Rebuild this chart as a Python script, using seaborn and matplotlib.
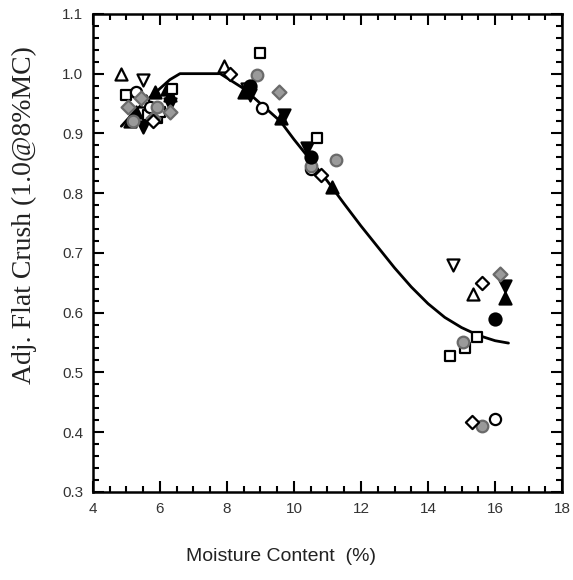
import numpy as np
import pandas as pd
import matplotlib
matplotlib.use("Agg")
import matplotlib.pyplot as plt
import seaborn as sns
from matplotlib.ticker import MultipleLocator


# =========================================================
# DATA
# =========================================================

curve_x = [4.85, 5.3, 5.8, 6.3, 6.6, 7.8, 8.5, 9.0, 9.6, 10.0, 10.5,
           11.0, 11.5, 12.0, 12.5, 13.0, 13.5, 14.0, 14.5, 15.0, 15.5,
           16.0, 16.4]
curve_y = [0.912, 0.94, 0.965, 0.99, 1.0, 1.0, 0.975, 0.95, 0.92, 0.89,
           0.855, 0.82, 0.782, 0.745, 0.71, 0.675, 0.643, 0.615, 0.592,
           0.575, 0.562, 0.553, 0.549]

tri_up_open_x = [4.85, 5.6, 7.9, 15.35]
tri_up_open_y = [1.0, 0.955, 1.012, 0.632]

tri_dn_open_x = [5.5, 8.6, 14.75]
tri_dn_open_y = [0.99, 0.975, 0.68]

tri_up_fill_x = [5.1, 5.3, 5.85, 6.2, 6.3, 8.5, 9.6, 11.15, 16.3]
tri_up_fill_y = [0.92, 0.935, 0.97, 0.975, 0.965, 0.97, 0.925, 0.81, 0.625]

tri_dn_fill_x = [5.5, 6.3, 8.7, 9.7, 10.4, 16.3]
tri_dn_fill_y = [0.91, 0.95, 0.965, 0.93, 0.875, 0.645]

circ_open_x = [5.3, 5.7, 9.05, 10.5, 16.0]
circ_open_y = [0.97, 0.945, 0.943, 0.84, 0.422]

circ_fill_x = [8.7, 10.5, 16.0]
circ_fill_y = [0.98, 0.86, 0.59]

sq_open_x = [5.0, 5.65, 5.9, 6.0, 6.35, 9.0, 10.7, 14.66, 15.1, 15.45]
sq_open_y = [0.965, 0.93, 0.925, 0.935, 0.975, 1.035, 0.893, 0.528, 0.54,
             0.56]

dia_gray_x = [5.05, 5.45, 5.8, 6.3, 9.55, 16.15]
dia_gray_y = [0.945, 0.96, 0.925, 0.935, 0.97, 0.665]

circ_gray_x = [5.2, 5.9, 8.9, 10.5, 11.25, 15.05, 15.6]
circ_gray_y = [0.92, 0.945, 0.998, 0.845, 0.855, 0.55, 0.41]

dia_open_x = [5.8, 8.1, 10.8, 15.3, 15.6]
dia_open_y = [0.92, 1.0, 0.83, 0.417, 0.65]

x_ticks = [4, 6, 8, 10, 12, 14, 16, 18]
y_ticks = [0.3, 0.4, 0.5, 0.6, 0.7, 0.8, 0.9, 1.0, 1.1]


# =========================================================
# FIGURE
# =========================================================

sns.set_style("ticks")

fig = plt.figure(figsize=(5.73, 5.80), dpi=100)
ax = fig.add_axes([0.162, 0.152, 0.819, 0.824])

sns.lineplot(
    x=curve_x,
    y=curve_y,
    color="black",
    linewidth=2,
    estimator=None,
    sort=False,
    ax=ax
)

series = [
    (tri_up_open_x, tri_up_open_y, "^", "white", "black", 75),
    (tri_dn_open_x, tri_dn_open_y, "v", "white", "black", 75),
    (tri_up_fill_x, tri_up_fill_y, "^", "black", "black", 75),
    (tri_dn_fill_x, tri_dn_fill_y, "v", "black", "black", 75),
    (sq_open_x, sq_open_y, "s", "white", "black", 55),
    (circ_open_x, circ_open_y, "o", "white", "black", 65),
    (circ_gray_x, circ_gray_y, "o", "#9a9a9a", "#6a6a6a", 70),
    (dia_gray_x, dia_gray_y, "D", "#9a9a9a", "#6a6a6a", 50),
    (dia_open_x, dia_open_y, "D", "white", "black", 45),
    (circ_fill_x, circ_fill_y, "o", "black", "black", 75),
]

for xs, ys, mk, fc, ec, size in series:
    sns.scatterplot(
        x=xs,
        y=ys,
        marker=mk,
        color=fc,
        edgecolor=ec,
        linewidth=1.6,
        s=size,
        zorder=3,
        ax=ax
    )

ax.set_xlim(4, 18)
ax.set_ylim(0.3, 1.1)

ax.set_xticks(x_ticks)
ax.set_yticks(y_ticks)
ax.set_xticklabels([str(t) for t in x_ticks])
ax.set_yticklabels([f"{t:.1f}" for t in y_ticks])

ax.xaxis.set_minor_locator(MultipleLocator(0.5))
ax.yaxis.set_minor_locator(MultipleLocator(0.02))

ax.tick_params(which="both", direction="in", top=True, right=True,
               width=1.5, labelsize=11, colors="black")
ax.tick_params(which="major", length=8, pad=7)
ax.tick_params(which="minor", length=4)

for sp in ax.spines.values():
    sp.set_linewidth(1.8)
    sp.set_color("black")

for lab in ax.get_xticklabels() + ax.get_yticklabels():
    lab.set_family("Liberation Sans")
    lab.set_color("#333333")

ax.set_xlabel("Moisture Content  (%)", family="Liberation Sans",
              fontsize=14, color="#222222")
ax.xaxis.set_label_coords(0.40, -0.118)

ax.set_ylabel("Adj. Flat Crush (1.0@8%MC)", family="Liberation Serif",
              fontsize=20, color="#222222")
ax.yaxis.set_label_coords(-0.12, 0.58)

fig.savefig("out.png", dpi=100)
